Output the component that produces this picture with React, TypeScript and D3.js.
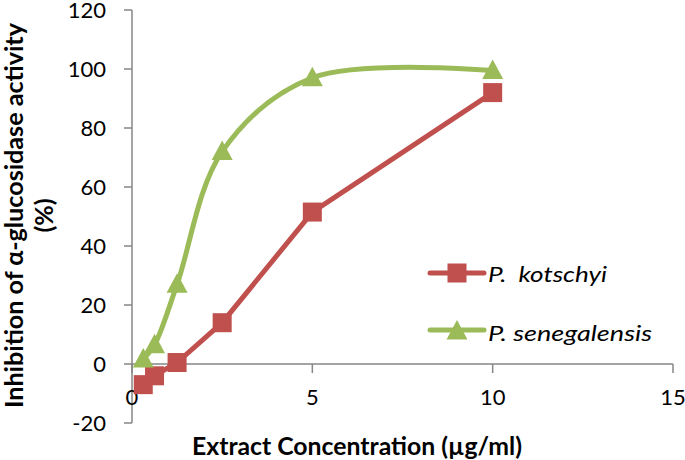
import React from "react";
import * as d3 from "d3";

const concentrations = [0.3125, 0.625, 1.25, 2.5, 5, 10];
const kotschyi = [-7, -4, 0.5, 14, 51.5, 92];
const senegalensis = [1.7, 6.5, 27, 72, 97, 99.5];
const yTicks = [-20, 0, 20, 40, 60, 80, 100, 120];
const xTicks = [0, 5, 10, 15];
const seriesNames = ["P.  kotschyi", "P. senegalensis"];

const W = 685, H = 460;
const RED = "#C0504D", GREEN = "#9BBB59", AXIS = "#868686";
const FONT = "Lato, 'Open Sans', sans-serif";

export default function App() {
  const x = d3.scaleLinear().domain([0, 15]).range([132, 673]);
  const y = d3.scaleLinear().domain([-20, 120]).range([423, 10]);
  const straight = d3.line<number>().x((_, i) => x(concentrations[i])).y((d) => y(d));
  const smooth = d3
    .line<number>()
    .x((_, i) => x(concentrations[i]))
    .y((d) => y(d))
    .curve(d3.curveCatmullRom.alpha(0.5));
  const tri = (cx: number, cy: number) =>
    `M${cx},${cy - 11}L${cx + 10.5},${cy + 8.5}L${cx - 10.5},${cy + 8.5}Z`;
  const sq = 19;
  const lw = 5;
  return (
    <svg width={W} height={H} style={{ position: "absolute", left: 0, top: 0, background: "#fff" }}>
      {/* y axis */}
      <line x1={x(0)} x2={x(0)} y1={y(120)} y2={y(-20)} stroke={AXIS} strokeWidth={1.5} />
      {yTicks.map((t) => (
        <g key={t}>
          <line x1={x(0) - 8} x2={x(0)} y1={y(t)} y2={y(t)} stroke={AXIS} strokeWidth={1.5} />
          <text x={106} y={y(t)} dy="0.36em" textAnchor="end" fontFamily={FONT} fontSize={22} fill="#000">
            {t}
          </text>
        </g>
      ))}
      {/* x axis at y=0 */}
      <line x1={x(0)} x2={x(15)} y1={y(0)} y2={y(0)} stroke={AXIS} strokeWidth={1.5} />
      {xTicks.map((t) => (
        <g key={t}>
          <line x1={x(t)} x2={x(t)} y1={y(0)} y2={y(0) + 9} stroke={AXIS} strokeWidth={1.5} />
          <text x={x(t)} y={397} dy="0.36em" textAnchor="middle" fontFamily={FONT} fontSize={22} fill="#000">
            {t}
          </text>
        </g>
      ))}
      {/* series */}
      <path d={smooth(senegalensis) || ""} fill="none" stroke={GREEN} strokeWidth={lw} />
      <path d={straight(kotschyi) || ""} fill="none" stroke={RED} strokeWidth={lw} />
      {kotschyi.map((v, i) => (
        <rect key={"k" + i} x={x(concentrations[i]) - sq / 2} y={y(v) - sq / 2} width={sq} height={sq} fill={RED} />
      ))}
      {senegalensis.map((v, i) => (
        <path key={"s" + i} d={tri(x(concentrations[i]), y(v))} fill={GREEN} />
      ))}
      {/* legend */}
      <line x1={430} x2={484} y1={273} y2={273} stroke={RED} strokeWidth={lw} strokeLinecap="round" />
      <rect x={457 - sq / 2} y={273 - sq / 2} width={sq} height={sq} fill={RED} />
      <text x={488} y={274.5} dy="0.36em" fontFamily={FONT} fontStyle="italic" fontSize={22}
        textLength={119} lengthAdjust="spacingAndGlyphs" style={{ whiteSpace: "pre" }}>
        {seriesNames[0]}
      </text>
      <line x1={430} x2={484} y1={330} y2={330} stroke={GREEN} strokeWidth={lw} strokeLinecap="round" />
      <path d={tri(457, 331)} fill={GREEN} />
      <text x={488} y={333} dy="0.36em" fontFamily={FONT} fontStyle="italic" fontSize={22}
        textLength={164} lengthAdjust="spacingAndGlyphs">
        {seriesNames[1]}
      </text>
      {/* titles */}
      <text
        transform={`translate(14,215.5) rotate(-90)`}
        textAnchor="middle"
        dy="0.36em"
        fontFamily={FONT}
        fontWeight="bold"
        fontSize={25}
        textLength={385}
        lengthAdjust="spacingAndGlyphs"
      >
        Inhibition of α-glucosidase activity
      </text>
      <text
        transform={`translate(44,215.5) rotate(-90)`}
        textAnchor="middle"
        dy="0.36em"
        fontFamily={FONT}
        fontWeight="bold"
        fontSize={25}
      >
        (%)
      </text>
      <text x={192} y={455} fontFamily={FONT} fontWeight="bold" fontSize={25}
        textLength={330} lengthAdjust="spacingAndGlyphs">
        Extract Concentration (µg/ml)
      </text>
    </svg>
  );
}
